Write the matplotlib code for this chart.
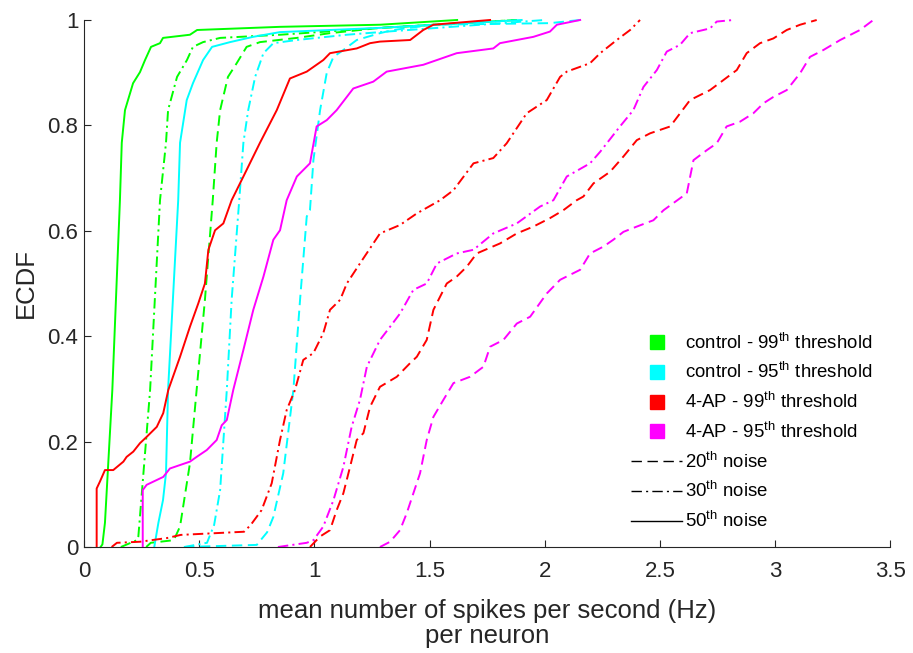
import matplotlib
matplotlib.use("Agg")
import matplotlib.pyplot as plt
from matplotlib.lines import Line2D

plt.rcParams['font.family'] = ['Liberation Sans', 'DejaVu Sans']
plt.rcParams['mathtext.fontset'] = 'custom'
plt.rcParams['mathtext.rm'] = 'Liberation Sans'
plt.rcParams['mathtext.it'] = 'Liberation Sans:italic'
plt.rcParams['lines.scale_dashes'] = False

# ECDF knots (x = mean spike rate in Hz, y = cumulative fraction) per condition / noise level
ctrl99_n50_x = [0.072, 0.080, 0.091, 0.123, 0.156, 0.164, 0.178, 0.213, 0.243, 0.265, 0.291, 0.330, 0.343, 0.460, 0.491, 0.851, 1.285, 1.62]
ctrl99_n50_y = [0, 0.005, 0.046, 0.298, 0.658, 0.767, 0.829, 0.880, 0.901, 0.924, 0.949, 0.956, 0.966, 0.972, 0.981, 0.987, 0.991, 1.0]

ctrl99_n30_x = [0.16, 0.23, 0.236, 0.287, 0.330, 0.356, 0.365, 0.404, 0.447, 0.473, 0.517, 0.591, 0.851, 1.285, 1.88]
ctrl99_n30_y = [0, 0.013, 0.02, 0.298, 0.658, 0.767, 0.829, 0.892, 0.924, 0.949, 0.958, 0.966, 0.972, 0.985, 1.0]

ctrl99_n20_x = [0.27, 0.29, 0.39, 0.417, 0.460, 0.489, 0.525, 0.559, 0.576, 0.591, 0.625, 0.663, 0.706, 0.764, 0.924, 1.068, 1.285, 1.88]
ctrl99_n20_y = [0, 0.008, 0.013, 0.039, 0.159, 0.298, 0.469, 0.658, 0.767, 0.829, 0.892, 0.918, 0.949, 0.958, 0.966, 0.975, 0.985, 1.0]

ctrl95_n50_x = [0.305, 0.323, 0.343, 0.356, 0.365, 0.409, 0.417, 0.446, 0.473, 0.517, 0.556, 0.634, 0.734, 0.851, 1.285, 1.9]
ctrl95_n50_y = [0, 0.046, 0.089, 0.140, 0.298, 0.658, 0.767, 0.848, 0.880, 0.924, 0.949, 0.958, 0.968, 0.977, 0.985, 1.0]

ctrl95_n30_x = [0.434, 0.534, 0.565, 0.591, 0.620, 0.641, 0.674, 0.692, 0.713, 0.743, 0.779, 0.822, 0.924, 1.141, 1.285, 2.0]
ctrl95_n30_y = [0, 0.008, 0.042, 0.108, 0.298, 0.469, 0.658, 0.767, 0.829, 0.892, 0.937, 0.956, 0.962, 0.972, 0.977, 1.0]

ctrl95_n20_x = [0.434, 0.75, 0.795, 0.822, 0.865, 0.909, 0.938, 0.967, 0.981, 0.996, 1.025, 1.054, 1.083, 1.126, 1.184, 1.285, 1.343, 1.517, 2.023, 2.154]
ctrl95_n20_y = [0, 0.004, 0.028, 0.057, 0.140, 0.298, 0.469, 0.627, 0.639, 0.734, 0.829, 0.900, 0.930, 0.943, 0.962, 0.975, 0.981, 0.991, 0.994, 1.0]

ap99_n50_x = [0.055, 0.055, 0.069, 0.091, 0.127, 0.171, 0.185, 0.214, 0.243, 0.272, 0.316, 0.344, 0.366, 0.417, 0.460, 0.496, 0.525, 0.540, 0.569, 0.605, 0.641, 0.692, 0.764, 0.837, 0.894, 0.967, 1.039, 1.068, 1.184, 1.242, 1.285, 1.416, 1.473, 1.517, 1.763]
ap99_n50_y = [0, 0.111, 0.124, 0.146, 0.146, 0.162, 0.171, 0.181, 0.197, 0.209, 0.228, 0.254, 0.298, 0.361, 0.418, 0.462, 0.500, 0.564, 0.601, 0.614, 0.658, 0.703, 0.767, 0.829, 0.889, 0.902, 0.924, 0.937, 0.946, 0.956, 0.959, 0.962, 0.981, 0.991, 1.0]

ap99_n30_x = [0.12, 0.143, 0.243, 0.36, 0.42, 0.695, 0.724, 0.771, 0.815, 0.851, 0.880, 0.916, 0.952, 0.996, 1.039, 1.068, 1.112, 1.141, 1.198, 1.285, 1.372, 1.445, 1.546, 1.604, 1.691, 1.777, 1.835, 1.922, 2.009, 2.067, 2.096, 2.197, 2.241, 2.313, 2.371, 2.414]
ap99_n30_y = [0, 0.008, 0.010, 0.017, 0.023, 0.029, 0.042, 0.070, 0.121, 0.203, 0.260, 0.298, 0.355, 0.368, 0.406, 0.450, 0.469, 0.500, 0.538, 0.595, 0.611, 0.633, 0.658, 0.677, 0.728, 0.738, 0.766, 0.823, 0.848, 0.892, 0.902, 0.918, 0.937, 0.962, 0.981, 1.0]

ap99_n20_x = [0.981, 1.025, 1.068, 1.097, 1.126, 1.155, 1.184, 1.213, 1.242, 1.285, 1.358, 1.416, 1.445, 1.488, 1.517, 1.546, 1.575, 1.618, 1.662, 1.705, 1.806, 1.879, 1.951, 2.023, 2.081, 2.139, 2.168, 2.212, 2.284, 2.342, 2.400, 2.458, 2.545, 2.588, 2.631, 2.718, 2.776, 2.834, 2.877, 2.935, 2.993, 3.051, 3.109, 3.181]
ap99_n20_y = [0, 0.020, 0.032, 0.070, 0.102, 0.152, 0.203, 0.216, 0.266, 0.304, 0.323, 0.349, 0.361, 0.393, 0.450, 0.475, 0.500, 0.513, 0.532, 0.557, 0.576, 0.595, 0.608, 0.624, 0.639, 0.658, 0.665, 0.690, 0.712, 0.741, 0.772, 0.785, 0.798, 0.823, 0.848, 0.867, 0.886, 0.905, 0.937, 0.956, 0.965, 0.981, 0.991, 1.0]

ap95_n50_x = [0.255, 0.255, 0.272, 0.344, 0.373, 0.460, 0.489, 0.533, 0.576, 0.598, 0.620, 0.648, 0.692, 0.735, 0.779, 0.822, 0.851, 0.880, 0.924, 0.981, 1.010, 1.054, 1.097, 1.169, 1.256, 1.314, 1.473, 1.618, 1.777, 1.806, 1.951, 2.023, 2.053, 2.154]
ap95_n50_y = [0, 0.108, 0.118, 0.133, 0.149, 0.162, 0.171, 0.184, 0.203, 0.231, 0.241, 0.298, 0.374, 0.450, 0.513, 0.583, 0.601, 0.658, 0.703, 0.728, 0.798, 0.810, 0.829, 0.870, 0.883, 0.902, 0.915, 0.937, 0.946, 0.956, 0.968, 0.978, 0.991, 1.0]

ap95_n30_x = [0.842, 0.967, 0.996, 1.039, 1.083, 1.126, 1.162, 1.198, 1.228, 1.285, 1.329, 1.372, 1.430, 1.488, 1.532, 1.618, 1.691, 1.777, 1.879, 1.980, 2.038, 2.096, 2.197, 2.241, 2.327, 2.385, 2.429, 2.487, 2.530, 2.588, 2.631, 2.718, 2.747, 2.82]
ap95_n30_y = [0, 0.008, 0.013, 0.039, 0.089, 0.152, 0.228, 0.279, 0.342, 0.393, 0.418, 0.443, 0.488, 0.500, 0.538, 0.557, 0.564, 0.595, 0.614, 0.646, 0.658, 0.703, 0.728, 0.750, 0.798, 0.829, 0.873, 0.905, 0.940, 0.953, 0.975, 0.984, 0.997, 1.0]

ap95_n20_x = [1.285, 1.329, 1.372, 1.401, 1.430, 1.459, 1.488, 1.517, 1.560, 1.604, 1.676, 1.734, 1.763, 1.821, 1.879, 1.937, 2.009, 2.067, 2.154, 2.197, 2.255, 2.298, 2.342, 2.400, 2.472, 2.516, 2.617, 2.646, 2.704, 2.747, 2.790, 2.848, 2.906, 2.950, 2.993, 3.051, 3.109, 3.152, 3.210, 3.283, 3.369, 3.427]
ap95_n20_y = [0, 0.010, 0.032, 0.064, 0.102, 0.140, 0.203, 0.247, 0.279, 0.311, 0.323, 0.342, 0.380, 0.393, 0.424, 0.437, 0.481, 0.507, 0.526, 0.557, 0.570, 0.583, 0.598, 0.608, 0.620, 0.639, 0.671, 0.734, 0.753, 0.766, 0.798, 0.807, 0.823, 0.842, 0.854, 0.867, 0.899, 0.930, 0.943, 0.962, 0.981, 1.0]

group_labels = ['control - 99$^{\\mathrm{th}}$ threshold',
                'control - 95$^{\\mathrm{th}}$ threshold',
                '4-AP - 99$^{\\mathrm{th}}$ threshold',
                '4-AP - 95$^{\\mathrm{th}}$ threshold']
noise_labels = ['20$^{\\mathrm{th}}$ noise', '30$^{\\mathrm{th}}$ noise', '50$^{\\mathrm{th}}$ noise']
x_ticks = [0, 0.5, 1, 1.5, 2, 2.5, 3, 3.5]
x_tick_labels = ['0', '0.5', '1', '1.5', '2', '2.5', '3', '3.5']
y_ticks = [0, 0.2, 0.4, 0.6, 0.8, 1.0]
y_tick_labels = ['0', '0.2', '0.4', '0.6', '0.8', '1']

colors = ['#00FF00', '#00FFFF', '#FF0000', '#FF00FF']
# dash patterns in points (dashes are not scaled by line width)
styles = [(0, (7.5, 4.0)), (0, (7.5, 3.0, 1.5, 3.0)), '-']

curves = [
    [(ctrl99_n20_x, ctrl99_n20_y), (ctrl99_n30_x, ctrl99_n30_y), (ctrl99_n50_x, ctrl99_n50_y)],
    [(ctrl95_n20_x, ctrl95_n20_y), (ctrl95_n30_x, ctrl95_n30_y), (ctrl95_n50_x, ctrl95_n50_y)],
    [(ap99_n20_x, ap99_n20_y), (ap99_n30_x, ap99_n30_y), (ap99_n50_x, ap99_n50_y)],
    [(ap95_n20_x, ap95_n20_y), (ap95_n30_x, ap95_n30_y), (ap95_n50_x, ap95_n50_y)],
]

text_color = '#262626'

fig = plt.figure(figsize=(9.13, 6.53), dpi=100)
ax = fig.add_axes([0.092, 0.1623, 0.883, 0.8071])

lw = 1.4
for color, group in zip(colors, curves):
    for style, (xs, ys) in zip(styles, group):
        ax.plot(xs, ys, color=color, linestyle=style, linewidth=lw, clip_on=False)

ax.set_xlim(0, 3.5)
ax.set_ylim(0, 1)
ax.set_xticks(x_ticks)
ax.set_xticklabels(x_tick_labels)
ax.set_yticks(y_ticks)
ax.set_yticklabels(y_tick_labels)
for side in ['top', 'right']:
    ax.spines[side].set_visible(False)
for side in ['left', 'bottom']:
    ax.spines[side].set_color(text_color)
    ax.spines[side].set_linewidth(0.8)
ax.tick_params(direction='in', length=5, width=0.8, colors=text_color, labelsize=16)
ax.tick_params(axis='x', pad=10)
ax.tick_params(axis='y', pad=4)

ax.set_xlabel('mean number of spikes per second (Hz)\nper neuron', fontsize=18.5, color=text_color,
              linespacing=1.05, labelpad=12)
ax.set_ylabel('ECDF', fontsize=18.5, color=text_color, labelpad=7)

handles = [Line2D([], [], color=c, marker='s', linestyle='none', markersize=10) for c in colors]
handles += [Line2D([], [], color='black', linestyle=s, linewidth=1.0) for s in styles]
labels = group_labels + noise_labels
ax.legend(handles, labels, loc='upper left', bbox_to_anchor=(624 / 913, 1 - 325 / 653),
          bbox_transform=fig.transFigure, frameon=False, fontsize=13.4,
          handlelength=2.7, handletextpad=0.16, labelspacing=0.52, borderaxespad=0)

fig.savefig('out.png', dpi=100)
